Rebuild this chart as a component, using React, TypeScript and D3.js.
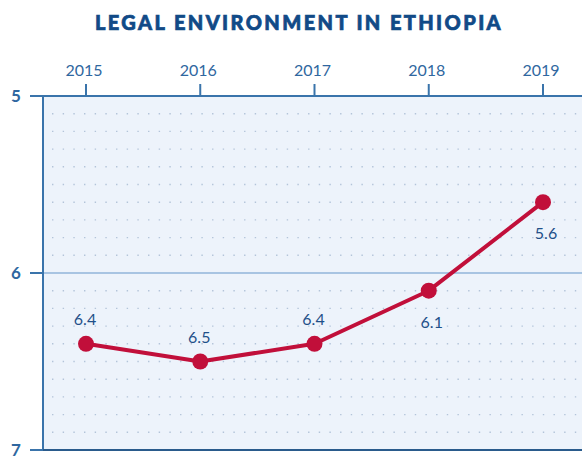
import React from "react";
import * as d3 from "d3";

const title = "LEGAL ENVIRONMENT IN ETHIOPIA";
const years = ["2015", "2016", "2017", "2018", "2019"];
const values = [6.4, 6.5, 6.4, 6.1, 5.6];
const labelSide = ["above", "above", "above", "below", "below"];
const yTicks = [5, 6, 7];

const W = 582;
const H = 456;

export default function App() {
  const left = 43;
  const right = 582;
  const top = 96;
  const bottom = 450;
  const x = d3.scalePoint<string>().domain(years).range([86, 543]);
  const y = d3.scaleLinear().domain([5, 7]).range([top, bottom]);

  const line = d3
    .line<number>()
    .x((_, i) => x(years[i]) as number)
    .y((d) => y(d));

  const gridRows = d3.range(1, 20).map((k) => 5 + k * 0.1).filter((v) => Math.abs(v - 6) > 1e-6);

  const font = "'Lato', 'Open Sans', sans-serif";
  const blue = "#2f67a0";
  const axisBlue = "#3a74ab";

  return (
    <div style={{ position: "absolute", left: 0, top: 0 }}>
      <svg width={W} height={H} style={{ display: "block", background: "#fff" }}>
        <text
          x={299}
          y={30}
          textAnchor="middle"
          fontFamily={font}
          fontWeight={900}
          fontSize={20}
          letterSpacing={2.4}
          fill="#114a87"
          stroke="#114a87"
          strokeWidth={0.7}
        >
          {title}
        </text>
        <rect x={left} y={top} width={right - left} height={bottom - top} fill="#edf3fb" />
        {gridRows.map((v, i) => (
          <line
            key={i}
            x1={52}
            x2={right}
            y1={y(v)}
            y2={y(v)}
            stroke="#b3c4d9"
            strokeWidth={1.4}
            strokeDasharray="1.4 9.27"
          />
        ))}
        <line x1={left} x2={right} y1={y(6)} y2={y(6)} stroke="#a8c4e2" strokeWidth={2} />
        {/* top axis */}
        <line x1={left} x2={right} y1={top} y2={top} stroke={axisBlue} strokeWidth={2} />
        {years.map((yr) => (
          <g key={yr}>
            <line x1={x(yr)} x2={x(yr)} y1={top - 12} y2={top} stroke={axisBlue} strokeWidth={2} />
            <text
              x={(x(yr) as number) - 2}
              y={76}
              textAnchor="middle"
              fontFamily={font}
              fontSize={16}
              fill={blue}
            >
              {yr}
            </text>
          </g>
        ))}
        {/* left axis */}
        <line x1={left} x2={left} y1={top} y2={bottom} stroke={axisBlue} strokeWidth={2} />
        {yTicks.map((t) => (
          <g key={t}>
            <line x1={30} x2={left} y1={y(t)} y2={y(t)} stroke={axisBlue} strokeWidth={2} />
            <text
              x={16}
              y={y(t) + 6}
              textAnchor="middle"
              fontFamily={font}
              fontWeight={700}
              fontSize={17}
              fill={blue}
            >
              {t}
            </text>
          </g>
        ))}
        <line x1={left} x2={right} y1={bottom} y2={bottom} stroke="#2a5b8c" strokeWidth={2} />
        {/* series */}
        <path d={line(values) || ""} fill="none" stroke="#c10f3a" strokeWidth={4} strokeLinejoin="round" />
        {values.map((v, i) => (
          <circle key={i} cx={x(years[i])} cy={y(v)} r={8} fill="#c10f3a" />
        ))}
        {values.map((v, i) => (
          <text
            key={"l" + i}
            x={(x(years[i]) as number) + (labelSide[i] === "below" ? 3 : -1)}
            y={labelSide[i] === "below" ? y(v) + 37 : y(v) - 19}
            textAnchor="middle"
            fontFamily={font}
            fontSize={16}
            fill="#1f5089"
          >
            {v.toFixed(1)}
          </text>
        ))}
      </svg>
    </div>
  );
}
